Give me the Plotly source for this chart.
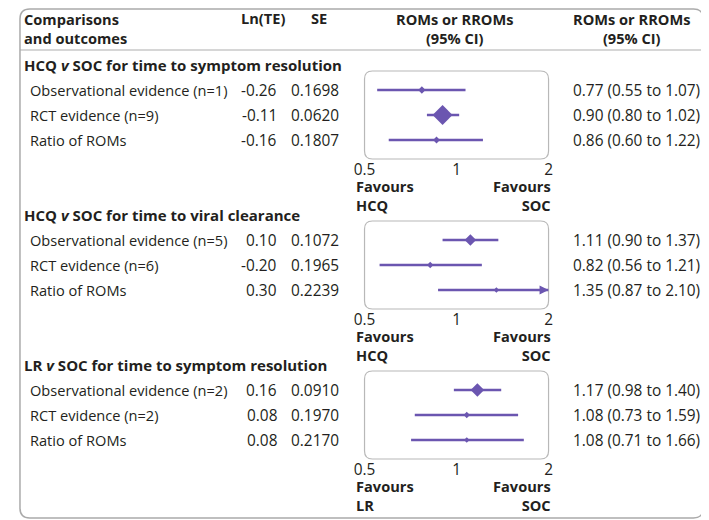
import math
import plotly.graph_objects as go

W, H = 709, 520
OFF = 8  # page margin round the plot div, in pixels
FONT = "Open Sans"
INK = "#231f20"
PURPLE = "#6b56b0"
GREY = "#b8b8b8"

# --- data -------------------------------------------------------------
section_titles = [
    "HCQ <i>v</i> SOC for time to symptom resolution",
    "HCQ <i>v</i> SOC for time to viral clearance",
    "LR <i>v</i> SOC for time to symptom resolution",
]
favours_left = ["HCQ", "HCQ", "LR"]
favours_right = ["SOC", "SOC", "SOC"]

row_labels = [
    ["Observational evidence (n=1)", "RCT evidence (n=9)", "Ratio of ROMs"],
    ["Observational evidence (n=5)", "RCT evidence (n=6)", "Ratio of ROMs"],
    ["Observational evidence (n=2)", "RCT evidence (n=2)", "Ratio of ROMs"],
]
ln_te = [
    [-0.26, -0.11, -0.16],
    [0.10, -0.20, 0.30],
    [0.16, 0.08, 0.08],
]
se = [
    [0.1698, 0.0620, 0.1807],
    [0.1072, 0.1965, 0.2239],
    [0.0910, 0.1970, 0.2170],
]
rom = [
    [0.77, 0.90, 0.86],
    [1.11, 0.82, 1.35],
    [1.17, 1.08, 1.08],
]
ci_low = [
    [0.55, 0.80, 0.60],
    [0.90, 0.56, 0.87],
    [0.98, 0.73, 0.71],
]
ci_high = [
    [1.07, 1.02, 1.22],
    [1.37, 1.21, 2.10],
    [1.40, 1.59, 1.66],
]
x_min, x_max = 0.5, 2
null_value = 1
tick_vals = [0.5, 1, 2]
tick_text = ["0.5", "1", "2"]

# --- layout geometry (pixels on the page) -----------------------------
box_left, box_right = 361, 549
box_tops = [71, 221, 371]
box_h = 88
row_step = 25


def rounded_rect(x0, y0, x1, y1, r):
    return (f"M{x0+r},{y0} L{x1-r},{y0} Q{x1},{y0} {x1},{y0+r} "
            f"L{x1},{y1-r} Q{x1},{y1} {x1-r},{y1} L{x0+r},{y1} "
            f"Q{x0},{y1} {x0},{y1-r} L{x0},{y0+r} Q{x0},{y0} {x0+r},{y0} Z")


fig = go.Figure()
shapes = []
annotations = []
layout_axes = {}

def txt(text, x, y, xref="x", yref="y", xanchor="left", size=14.6, align=None):
    annotations.append(dict(text=text, x=x, y=y, xref=xref, yref=yref,
                            xanchor=xanchor, yanchor="middle", showarrow=False,
                            align=align or ("center" if xanchor == "center" else xanchor),
                            font=dict(family=FONT, size=size, color=INK)))

# header
txt("<b>Comparisons<br>and outcomes</b>", 11, 28, size=14.6)
txt("<b>Ln(TE)</b>", 257, 18, xanchor="center", size=14.6)
txt("<b>SE</b>", 314, 18, xanchor="center", size=14.6)
for cx in (453, 634):
    txt("<b>ROMs or RROMs<br>(95% CI)</b>", cx, 28, xanchor="center", size=14.6)

shapes.append(dict(type="line", xref="x", yref="y", x0=OFF + 1, x1=707, y0=50, y1=50,
                   line=dict(color="#c8c8c8", width=1.5)))
shapes.append(dict(type="path", xref="x", yref="y",
                   path=rounded_rect(OFF + 1, OFF + 1, 707, 518, 10),
                   line=dict(color="#aaaaaa", width=1.5)))

for s in range(3):
    k = s + 2
    xa, ya = f"x{k}", f"y{k}"
    top = box_tops[s]
    first_row = top + 19
    layout_axes[f"xaxis{k}"] = dict(
        type="log", range=[math.log10(x_min), math.log10(x_max)],
        domain=[(box_left - OFF) / W, (box_right - OFF) / W], anchor=ya,
        showgrid=False, zeroline=False, showline=False, ticks="",
        tickvals=tick_vals, ticktext=tick_text,
        tickfont=dict(family=FONT, size=15.4, color=INK), ticklabelstandoff=0,
        fixedrange=True)
    layout_axes[f"yaxis{k}"] = dict(
        range=[2.76, -0.76],
        domain=[1 - (top + box_h - OFF) / H, 1 - (top - OFF) / H],
        anchor=xa, visible=False, fixedrange=True)

    shapes.append(dict(type="path", xref="x", yref="y", layer="below",
                       path=rounded_rect(box_left, top, box_right, top + box_h, 8),
                       line=dict(color=GREY, width=1.2), fillcolor="white"))
    shapes.append(dict(type="line", xref=xa, yref=f"{ya} domain", layer="below",
                       x0=math.log10(null_value), x1=math.log10(null_value), y0=0, y1=1,
                       line=dict(color="#a0a0a0", width=1)))

    # section title and favours labels
    txt(f"<b>{section_titles[s]}</b>", 11, first_row - row_step, size=15)
    fav_y = top + box_h + 36
    txt(f"<b>Favours<br>{favours_left[s]}</b>", 350, fav_y, size=14.6)
    txt(f"<b>Favours<br>{favours_right[s]}</b>", 554, fav_y, xanchor="right", size=14.6)

    for i in range(3):
        txt(row_labels[s][i], 17, i, yref=ya)
        txt(f"{ln_te[s][i]:.2f}", 274, i, yref=ya, xanchor="right", size=15.4)
        txt(f"{se[s][i]:.4f}", 337, i, yref=ya, xanchor="right", size=15.4)
        txt(f"{rom[s][i]:.2f} ({ci_low[s][i]:.2f} to {ci_high[s][i]:.2f})", 572, i,
            yref=ya, size=15.4)

        hi = min(ci_high[s][i], x_max)
        fig.add_trace(go.Scatter(x=[ci_low[s][i], hi], y=[i, i], mode="lines",
                                 line=dict(color=PURPLE, width=2.5),
                                 xaxis=xa, yaxis=ya, hoverinfo="skip", cliponaxis=False))
        if ci_high[s][i] > x_max:
            fig.add_trace(go.Scatter(x=[hi], y=[i], mode="markers",
                                     marker=dict(symbol="arrow-right", size=9, color=PURPLE),
                                     xaxis=xa, yaxis=ya, hoverinfo="skip", cliponaxis=False))
        # marker size scales with precision (1/SE)
        fig.add_trace(go.Scatter(x=[rom[s][i]], y=[i], mode="markers",
                                 marker=dict(symbol="diamond", size=0.95 / se[s][i],
                                             color=PURPLE, line=dict(width=0)),
                                 xaxis=xa, yaxis=ya, cliponaxis=False))

fig.update_layout(
    width=W, height=H, autosize=False,
    margin=dict(l=0, r=0, t=0, b=0),
    paper_bgcolor="white", plot_bgcolor="rgba(0,0,0,0)",
    showlegend=False,
    # canvas axis in page pixels, shifted by the page margin
    xaxis=dict(range=[OFF, W + OFF], domain=[0, 1], visible=False, fixedrange=True),
    yaxis=dict(range=[H + OFF, OFF], domain=[0, 1], visible=False, fixedrange=True),
    shapes=shapes, annotations=annotations,
    **layout_axes,
)

fig.write_html("out.html")
